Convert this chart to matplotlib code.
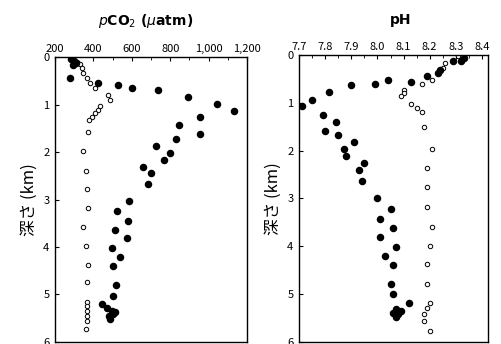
import matplotlib.pyplot as plt
from matplotlib.ticker import MultipleLocator

plt.rcParams['font.family'] = ['Noto Sans CJK JP', 'DejaVu Sans']

# pCO2 panel, filled circles
pco2_fill_x = [285, 300, 310, 295, 278, 423, 527, 600, 735, 891, 1042, 1130, 953, 844,
               953, 832, 725, 797, 766, 657, 699, 683, 584, 522, 579, 512, 574, 496,
               538, 501, 517, 501, 444, 470, 496, 512, 481, 501, 486]
pco2_fill_d = [0.03, 0.08, 0.13, 0.17, 0.44, 0.55, 0.59, 0.65, 0.69, 0.83, 0.99, 1.13, 1.27,
               1.43, 1.62, 1.72, 1.87, 2.01, 2.16, 2.31, 2.45, 2.68, 3.04, 3.25, 3.46, 3.65,
               3.82, 4.03, 4.21, 4.40, 4.80, 5.03, 5.20, 5.29, 5.34, 5.37, 5.45, 5.41, 5.51]

# pCO2 panel, open circles
pco2_open_x = [294, 314, 330, 340, 345, 366, 382, 408, 475, 486, 434, 423, 408, 392, 377,
               371, 345, 361, 366, 371, 345, 361, 371, 366, 366, 367, 367, 366, 366, 361]
pco2_open_d = [0.06, 0.1, 0.14, 0.23, 0.34, 0.44, 0.55, 0.65, 0.80, 0.90, 1.04, 1.11, 1.18,
               1.26, 1.32, 1.58, 1.97, 2.39, 2.77, 3.17, 3.57, 3.98, 4.38, 4.74, 5.15, 5.24,
               5.34, 5.45, 5.55, 5.72]

# pH panel, filled circles
ph_fill_x = [8.33, 8.32, 8.29, 8.24, 8.23, 8.19, 8.13, 8.04, 7.99, 7.90, 7.815, 7.75, 7.712,
             7.79, 7.84, 7.80, 7.85, 7.91, 7.87, 7.88, 7.95, 7.93, 7.94, 8.00, 8.05, 8.01,
             8.06, 8.01, 8.07, 8.03, 8.06, 8.05, 8.06, 8.12, 8.07, 8.09, 8.06, 8.08, 8.07]
ph_fill_d = [0.06, 0.13, 0.13, 0.32, 0.38, 0.44, 0.56, 0.53, 0.61, 0.63, 0.78, 0.93, 1.06,
             1.25, 1.39, 1.58, 1.67, 1.82, 1.97, 2.11, 2.26, 2.41, 2.64, 3.00, 3.21, 3.42,
             3.61, 3.80, 4.01, 4.20, 4.39, 4.79, 5.00, 5.19, 5.31, 5.35, 5.39, 5.41, 5.47]

# pH panel, open circles
ph_open_x = [8.31, 8.31, 8.26, 8.25, 8.21, 8.17, 8.10, 8.10, 8.09, 8.13, 8.15, 8.17, 8.18,
             8.21, 8.19, 8.19, 8.19, 8.21, 8.20, 8.19, 8.19, 8.20, 8.19, 8.18, 8.18, 8.20]
ph_open_d = [0.0, 0.03, 0.17, 0.28, 0.53, 0.61, 0.74, 0.80, 0.86, 1.02, 1.10, 1.20, 1.50,
             1.97, 2.37, 2.77, 3.17, 3.60, 4.00, 4.38, 4.79, 5.19, 5.29, 5.42, 5.57, 5.78]

pco2_ticks = [200, 400, 600, 800, 1000, 1200]
pco2_labels = ['200', '400', '600', '800', '1,000', '1,200']
ph_ticks = [7.7, 7.8, 7.9, 8.0, 8.1, 8.2, 8.3, 8.4]
depth_ticks = [0, 1, 2, 3, 4, 5, 6]

fig = plt.figure(figsize=(5.01, 3.44), dpi=100)
ax1 = fig.add_axes([0.110, 0.006, 0.383, 0.828])
ax2 = fig.add_axes([0.597, 0.006, 0.377, 0.834])


def style_axis(ax):
    ax.set_ylim(6, 0)
    ax.set_yticks(depth_ticks)
    ax.xaxis.tick_top()
    ax.tick_params(axis='both', which='major', direction='in', length=3, width=0.8,
                   labelsize=8, pad=2)
    ax.tick_params(axis='x', which='minor', direction='in', length=2, width=0.6, top=True,
                   bottom=False)
    ax.tick_params(axis='y', pad=4)
    for s in ax.spines.values():
        s.set_linewidth(1.0)
    ax.set_ylabel('深さ (km)', fontsize=12, labelpad=4)


ax1.plot(pco2_open_x, pco2_open_d, 'o', ms=3.2, mfc='white', mec='black', mew=0.7)
ax1.plot(pco2_fill_x, pco2_fill_d, 'o', ms=4.4, color='black')
ax1.set_xlim(200, 1200)
ax1.set_xticks(pco2_ticks)
ax1.set_xticklabels(pco2_labels)
ax1.xaxis.set_minor_locator(MultipleLocator(100))
style_axis(ax1)
fig.text(0.29, 0.938, r'$p$CO$_2$ ($\mu$atm)', ha='center', va='center', fontsize=10,
         family='DejaVu Sans', fontweight='bold')

ax2.plot(ph_open_x, ph_open_d, 'o', ms=3.2, mfc='white', mec='black', mew=0.7)
ax2.plot(ph_fill_x, ph_fill_d, 'o', ms=4.4, color='black')
ax2.set_xlim(7.7, 8.423)
ax2.set_xticks(ph_ticks)
ax2.set_xticklabels([f'{t:.1f}' for t in ph_ticks])
ax2.xaxis.set_minor_locator(MultipleLocator(0.05))
style_axis(ax2)
fig.text(0.80, 0.942, 'pH', ha='center', va='center', fontsize=10, family='DejaVu Sans',
         fontweight='bold')

fig.savefig('out.png', dpi=100)
